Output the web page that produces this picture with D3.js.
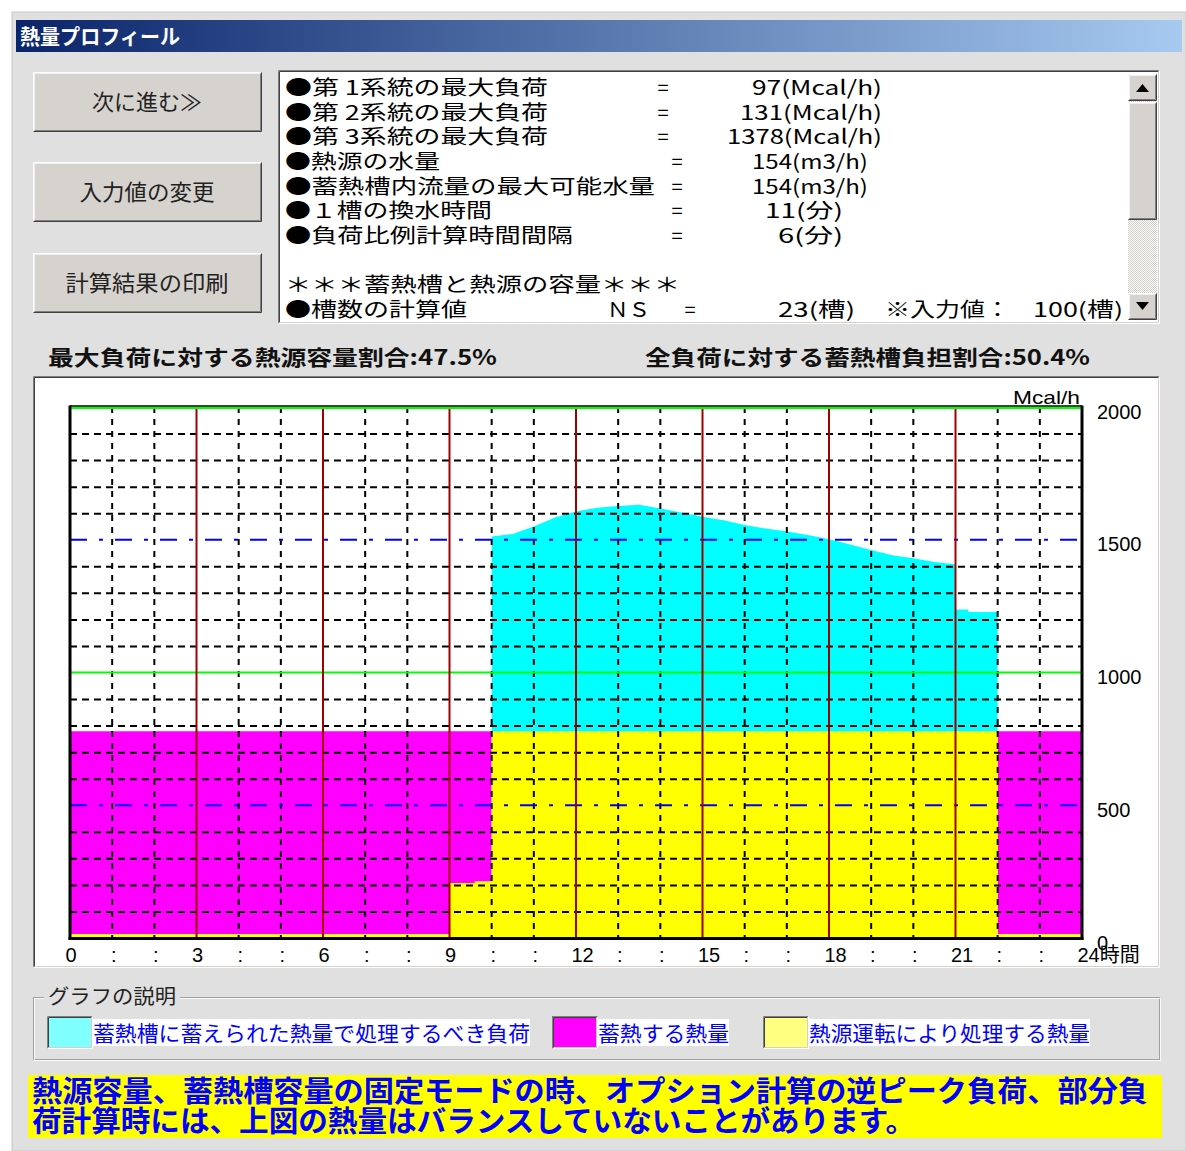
<!DOCTYPE html>
<html><head><meta charset="utf-8">
<script src="https://cdn.jsdelivr.net/npm/d3@7"></script>
<style>body{margin:0;background:#fff;} svg{display:block}</style>
</head><body><svg id="c" width="1186" height="1151"></svg>
<script>
// ---------- data ----------
const hourTicks = d3.range(0, 25);
const yTicks = [0, 500, 1000, 1500, 2000];
const stepStarts = [0, 9, 9.6, 10, 22];
const stepEnds = [9, 9.6, 10, 22, 24];
const sourceHeat = [15, 207, 213, 779, 15];   // 熱源運転により処理する熱量
const storedHeat = [764, 572, 566, 0, 764];   // 蓄熱する熱量 (stacked)
const loadTimes = [10, 10.5, 11, 11.5, 12, 12.5, 13, 13.5, 14, 14.5, 15, 15.5, 16, 16.5, 17, 17.5, 18, 18.5, 19, 19.5, 20, 20.5, 21, 21, 21.3, 21.3, 22];
const loadValues = [1512, 1522, 1550, 1584, 1606, 1621, 1627, 1632, 1618, 1603, 1587, 1573, 1556, 1542, 1531, 1518, 1502, 1482, 1461, 1442, 1430, 1416, 1408, 1237, 1237, 1228, 1228];
const infoLabels = ["●第 1系統の最大負荷", "●第 2系統の最大負荷", "●第 3系統の最大負荷", "●熱源の水量", "●蓄熱槽内流量の最大可能水量", "●１槽の換水時間", "●負荷比例計算時間間隔", "", "＊＊＊蓄熱槽と熱源の容量＊＊＊", "●槽数の計算値"];
const infoValues = ["97(Mcal/h)", "131(Mcal/h)", "1378(Mcal/h)", "154(m3/h)", "154(m3/h)", "11(分)", "6(分)", "", "", "23(槽)"];
const headerTexts = ["最大負荷に対する熱源容量割合:47.5%", "全負荷に対する蓄熱槽負担割合:50.4%"];
const buttonTexts = ["次に進む≫", "入力値の変更", "計算結果の印刷"];
const legendTexts = ["蓄熱槽に蓄えられた熱量で処理するべき負荷", "蓄熱する熱量", "熱源運転により処理する熱量"];
const noteLines = ["熱源容量、蓄熱槽容量の固定モードの時、オプション計算の逆ピーク負荷、部分負", "荷計算時には、上図の熱量はバランスしていないことがあります。"];

// ---------- layout ----------
const JP = "'Noto Sans CJK JP', sans-serif";
const svg = d3.select("#c");
const BG = "#e0e0e0", BTN = "#d6d3ce";

function bevel(g, x, y, w, h, raised, fill) {
  g.append("rect").attr("x", x).attr("y", y).attr("width", w).attr("height", h).attr("fill", fill);
  const lt = raised ? "#ffffff" : "#808080", rb = raised ? "#404040" : "#ffffff";
  const lt2 = raised ? "#f0f0f0" : "#404040", rb2 = raised ? "#808080" : "#d4d0c8";
  g.append("path").attr("d", `M${x+0.5},${y+h-0.5}V${y+0.5}H${x+w-0.5}`).attr("stroke", lt).attr("fill", "none");
  g.append("path").attr("d", `M${x+0.5},${y+h-0.5}H${x+w-0.5}V${y+0.5}`).attr("stroke", rb).attr("fill", "none");
  g.append("path").attr("d", `M${x+1.5},${y+h-1.5}V${y+1.5}H${x+w-1.5}`).attr("stroke", lt2).attr("fill", "none");
  g.append("path").attr("d", `M${x+1.5},${y+h-1.5}H${x+w-1.5}V${y+1.5}`).attr("stroke", rb2).attr("fill", "none");
}

// window
svg.append("rect").attr("x", 12).attr("y", 12).attr("width", 1174).attr("height", 1139).attr("fill", BG)
  .attr("stroke", "#c8c8c8");
const grad = svg.append("defs").append("linearGradient").attr("id", "tb");
grad.append("stop").attr("offset", "0%").attr("stop-color", "#0a246a");
grad.append("stop").attr("offset", "100%").attr("stop-color", "#a6caf0");
svg.append("rect").attr("x", 16).attr("y", 20).attr("width", 1166).attr("height", 32).attr("fill", "url(#tb)");
svg.append("text").attr("x", 20).attr("y", 44).attr("fill", "#fff").attr("font-family", JP).attr("font-weight", "bold")
  .attr("font-size", 21).attr("textLength", 160).attr("lengthAdjust", "spacingAndGlyphs").text("熱量プロフィール");

// buttons
const btnY = [72, 162, 253], btnW = [110, 135, 163];
buttonTexts.forEach((t, i) => {
  const g = svg.append("g");
  bevel(g, 33, btnY[i], 229, 60, true, BTN);
  g.append("text").attr("x", 147).attr("y", btnY[i] + 38).attr("text-anchor", "middle").attr("font-family", JP)
    .attr("font-size", 22).attr("fill", "#222").attr("textLength", btnW[i]).attr("lengthAdjust", "spacingAndGlyphs").text(t);
});

// info text box
const tb = svg.append("g");
bevel(tb, 278, 70, 882, 254, false, "#ffffff");
const lineY = i => 87 + i * 24.65 + 8;
const labW = [263, 263, 263, 155, 370, 207, 288, 0, 395, 182];
const eqX = [663, 663, 663, 677, 677, 677, 677, null, null, 690];
const valEnd = [882, 882, 882, 868, 868, 843, 843, 0, 0, 855];
const valW = [130, 142, 155, 116, 116, 78, 65, 0, 0, 77];
const tf = (x, y, s, w, anchor) => {
  const t = tb.append("text").attr("x", x).attr("y", y).attr("font-family", JP).attr("font-size", 20)
    .attr("fill", "#000").attr("text-anchor", anchor || "start").text(s);
  if (w) t.attr("textLength", w).attr("lengthAdjust", "spacingAndGlyphs");
  return t;
};
infoLabels.forEach((s, i) => {
  if (!s) return;
  tf(285, lineY(i), s, labW[i]);
  if (eqX[i] !== null) tf(eqX[i], lineY(i), "=", 0, "middle");
  if (infoValues[i]) tf(valEnd[i], lineY(i), infoValues[i], valW[i], "end");
});
tf(607, lineY(9), "ＮＳ", 43);
tf(885, lineY(9), "※入力値：", 125);
tf(1123, lineY(9), "100(槽)", 90, "end");
// scrollbar
const sb = svg.append("g");
const pat = svg.select("defs").append("pattern").attr("id", "chk").attr("width", 2).attr("height", 2).attr("patternUnits", "userSpaceOnUse");
pat.append("rect").attr("width", 2).attr("height", 2).attr("fill", "#ffffff");
pat.append("rect").attr("width", 1).attr("height", 1).attr("fill", "#d4d0c8");
pat.append("rect").attr("x", 1).attr("y", 1).attr("width", 1).attr("height", 1).attr("fill", "#d4d0c8");
sb.append("rect").attr("x", 1128).attr("y", 74).attr("width", 29).attr("height", 246).attr("fill", "url(#chk)");
bevel(sb, 1128, 74, 29, 27, true, BTN);
bevel(sb, 1128, 102, 29, 118, true, BTN);
bevel(sb, 1128, 293, 29, 27, true, BTN);
sb.append("path").attr("d", "M1136,92L1142.5,84L1149,92Z").attr("fill", "#000");
sb.append("path").attr("d", "M1136,302L1142.5,310L1149,302Z").attr("fill", "#000");

// header labels
[[48, 449], [645, 445]].forEach(([x, w], i) => {
  svg.append("text").attr("x", x).attr("y", 365).attr("font-family", JP).attr("font-weight", "bold").attr("font-size", 21)
    .attr("fill", "#111").attr("textLength", w).attr("lengthAdjust", "spacingAndGlyphs").text(headerTexts[i]);
});

// chart panel
const cp = svg.append("g");
bevel(cp, 33, 376, 1127, 592, false, "#ffffff");

const x = d3.scaleLinear().domain([0, 24]).range([70, 1082]);
const y = d3.scaleLinear().domain([0, 2000]).range([938, 407]);
const plot = svg.append("g");

// stacked step areas
const stepPts = arr => stepStarts.map((s, i) => [s, arr[i]]).concat([[24, arr[arr.length - 1]]]);
const srcPts = stepPts(sourceHeat);
const totPts = stepPts(sourceHeat.map((v, i) => v + storedHeat[i]));
plot.append("path").datum(srcPts.map((p, i) => [p[0], p[1], totPts[i][1]]))
  .attr("fill", "#ff00ff")
  .attr("d", d3.area().curve(d3.curveStepAfter).x(d => x(d[0])).y0(d => y(d[1])).y1(d => y(d[2])));
plot.append("path").datum(srcPts)
  .attr("fill", "#ffff00")
  .attr("d", d3.area().curve(d3.curveStepAfter).x(d => x(d[0])).y0(y(0)).y1(d => y(d[1])));
const cap = sourceHeat[3];
plot.append("path").datum(loadTimes.map((t, i) => [t, loadValues[i]]))
  .attr("fill", "#00ffff")
  .attr("d", d3.area().x(d => x(d[0])).y0(y(cap)).y1(d => y(d[1])));

// grid
const grid = svg.append("g");
d3.range(100, 2000, 100).filter(v => v % 500 !== 0).forEach(v => {
  grid.append("line").attr("x1", x(0)).attr("x2", x(24)).attr("y1", y(v) + 0.5).attr("y2", y(v) + 0.5)
    .attr("stroke", "#000").attr("stroke-width", 2).attr("stroke-dasharray", "7,5");
});
hourTicks.filter(h => h > 0 && h < 24 && h % 3 !== 0).forEach(h => {
  grid.append("line").attr("x1", x(h)).attr("x2", x(h)).attr("y1", y(2000)).attr("y2", y(0))
    .attr("stroke", "#000").attr("stroke-width", 2).attr("stroke-dasharray", "6,6");
});
[500, 1500].forEach(v => {
  grid.append("line").attr("x1", x(0)).attr("x2", x(24)).attr("y1", y(v)).attr("y2", y(v))
    .attr("stroke", "#0000ff").attr("stroke-width", 2).attr("stroke-dasharray", "17,12,4,12");
});
grid.append("line").attr("x1", x(0)).attr("x2", x(24)).attr("y1", y(1000)).attr("y2", y(1000))
  .attr("stroke", "#00ff00").attr("stroke-width", 2);
hourTicks.filter(h => h > 0 && h < 24 && h % 3 === 0).forEach(h => {
  grid.append("line").attr("x1", x(h)).attr("x2", x(h)).attr("y1", y(2000)).attr("y2", y(0))
    .attr("stroke", "#a00000").attr("stroke-width", 2);
});
// frame
grid.append("line").attr("x1", x(0)).attr("x2", x(24)).attr("y1", y(2000) - 1).attr("y2", y(2000) - 1).attr("stroke", "#000").attr("stroke-width", 1.5);
grid.append("line").attr("x1", x(0)).attr("x2", x(24)).attr("y1", y(2000) + 1).attr("y2", y(2000) + 1).attr("stroke", "#00ff00").attr("stroke-width", 2);
grid.append("line").attr("x1", x(0)).attr("x2", x(0)).attr("y1", y(2000) - 1.5).attr("y2", y(0) + 2).attr("stroke", "#000").attr("stroke-width", 3);
grid.append("line").attr("x1", x(24)).attr("x2", x(24)).attr("y1", y(2000) - 1.5).attr("y2", y(0) + 2).attr("stroke", "#000").attr("stroke-width", 3);
grid.append("line").attr("x1", x(0) - 1.5).attr("x2", x(24) + 1.5).attr("y1", y(0) + 0.5).attr("y2", y(0) + 0.5).attr("stroke", "#000").attr("stroke-width", 3);

// axes
const NUMF = "'Liberation Sans', Arial, " + JP;
const xAx = svg.append("g").attr("transform", `translate(0,${y(0)})`)
  .call(d3.axisBottom(x).tickValues(hourTicks).tickSize(0).tickPadding(0)
    .tickFormat(h => h === 24 ? "24時間" : (h % 3 === 0 ? String(h) : ":")));
xAx.select(".domain").remove();
xAx.selectAll("text").attr("font-family", NUMF).attr("font-size", 20).attr("fill", "#000")
  .attr("y", 24).attr("dy", null)
  .attr("text-anchor", h => h % 3 === 0 ? "start" : "middle")
  .attr("dx", h => h % 3 === 0 ? -5 : 1);
const yAx = svg.append("g").attr("transform", `translate(1097,0)`)
  .call(d3.axisRight(y).tickValues(yTicks).tickSize(0).tickPadding(0).tickFormat(d3.format("d")));
yAx.select(".domain").remove();
yAx.selectAll("text").attr("font-family", NUMF).attr("font-size", 20).attr("fill", "#000").attr("dy", "0.55em");
svg.append("text").attr("x", 1080).attr("y", 404).attr("text-anchor", "end").attr("font-family", NUMF)
  .attr("font-size", 19).attr("textLength", 67).attr("lengthAdjust", "spacingAndGlyphs").text("Mcal/h");

// legend group box
const lg = svg.append("g");
lg.append("rect").attr("x", 33.5).attr("y", 997.5).attr("width", 1126).attr("height", 62).attr("fill", "none").attr("stroke", "#a0a0a0");
lg.append("rect").attr("x", 34.5).attr("y", 998.5).attr("width", 1126).attr("height", 62).attr("fill", "none").attr("stroke", "#ffffff").attr("stroke-width", 0.8);
lg.append("rect").attr("x", 44).attr("y", 984).attr("width", 136).attr("height", 24).attr("fill", BG);
lg.append("text").attr("x", 48).attr("y", 1004).attr("font-family", JP).attr("font-size", 20).attr("fill", "#222")
  .attr("textLength", 128).attr("lengthAdjust", "spacingAndGlyphs").text("グラフの説明");
const legColors = ["#80ffff", "#ff00ff", "#ffff80"];
const legBoxX = [47, 552, 763], legTextW = [437, 131, 281];
legendTexts.forEach((t, i) => {
  bevel(lg, legBoxX[i], 1016, 46, 33, false, legColors[i]);
  lg.append("rect").attr("x", legBoxX[i] + 46).attr("y", 1019).attr("width", legTextW[i]).attr("height", 27).attr("fill", "#fff");
  lg.append("text").attr("x", legBoxX[i] + 46).attr("y", 1041).attr("font-family", JP).attr("font-size", 21).attr("fill", "#0000ff")
    .attr("textLength", legTextW[i]).attr("lengthAdjust", "spacingAndGlyphs").text(t);
});

// note banner
svg.append("rect").attr("x", 28).attr("y", 1075).attr("width", 1134).attr("height", 63).attr("fill", "#ffff00");
[[1148 - 32, 1102], [915 - 32, 1132]].forEach(([w, yy], i) => {
  svg.append("text").attr("x", 32).attr("y", yy).attr("font-family", JP).attr("font-weight", "bold").attr("font-size", 29)
    .attr("fill", "#0000ff").attr("textLength", w).attr("lengthAdjust", "spacingAndGlyphs").text(noteLines[i]);
});
</script></body></html>
